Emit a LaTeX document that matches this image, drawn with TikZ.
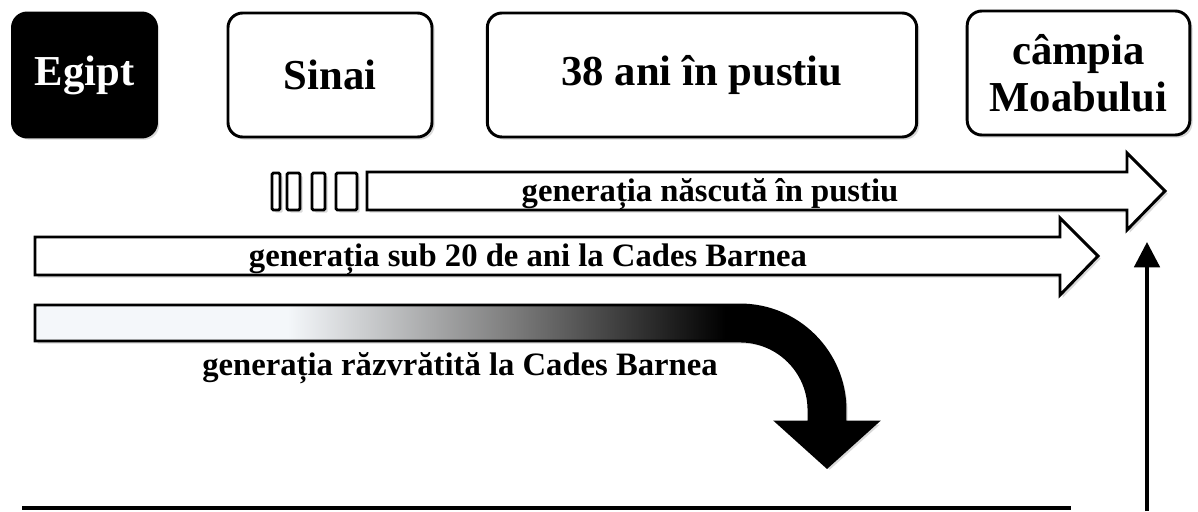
\documentclass[tikz,border=0pt]{standalone}
\usepackage{fontspec}
\setmainfont{Liberation Serif}
\usetikzlibrary{positioning, arrows.meta, shadows}

\definecolor{barlight}{HTML}{F4F7FA}
\pgfdeclarehorizontalshading{rebelshade}{100bp}{color(0bp)=(barlight); color(40bp)=(barlight); color(53bp)=(black!50); color(66bp)=(black); color(100bp)=(black)}

\tikzset{
  softshadow/.style={drop shadow={shadow xshift=2pt, shadow yshift=-2pt, opacity=.3}},
  place/.style={draw=black, line width=2.2pt, rounded corners=11pt, fill=white, inner sep=0pt,
    font=\fontsize{32}{35}\selectfont\bfseries, align=center, minimum height=93pt, softshadow},
  band/.style={draw=black, line width=2.2pt, fill=white, softshadow},
  bandtext/.style={font=\fontsize{24.5}{28}\selectfont\bfseries, inner sep=0pt},
}

\begin{document}
\begin{tikzpicture}[x=0.75pt, y=0.75pt]
    \useasboundingbox (0,0) rectangle (1198,511);

    % places
    \node[place, fill=black, text=white, minimum width=108pt] (egipt) at (84.5,436) {Egipt};
    \node[place, minimum width=153pt] (sinai) at (330,436) {Sinai};
    \node[place, minimum width=322pt] (pustiu) at (702,436) {38 ani în pustiu};
    \node[place, minimum width=167pt] (moab) at (1078.5,438) {câmpia\\Moabului};

    % generatia nascuta in pustiu
    \foreach \a/\b in {272/280, 287/300, 312/325, 336/357}
        \draw[band, rounded corners=1pt] (\a,301) rectangle (\b,338);
    \draw[band] (367,339) -- (1127,339) -- (1127,358) -- (1165,320) -- (1127,281) -- (1127,301) -- (367,301) -- cycle;
    \node[bandtext] (nascuta) at (710,317) {generația născută în pustiu};

    % generatia sub 20 de ani
    \draw[band] (35,274) -- (1060,274) -- (1060,293) -- (1098,255) -- (1060,216) -- (1060,236) -- (35,236) -- cycle;
    \node[bandtext] (sub20) at (528,252) {generația sub 20 de ani la Cades Barnea};

    % generatia razvratita
    \draw[line width=2.2pt, shade, shading=rebelshade, softshadow]
        (35,206) -- (740,206) arc[start angle=90, end angle=0, radius=105] -- (845,89) -- (877,89)
        -- (827,44) -- (777,89) -- (809,89) -- (809,101) arc[start angle=0, end angle=90, radius=69]
        -- (35,170) -- cycle;
    \node[bandtext] (razvratita) at (460,143) {generația răzvrătită la Cades Barnea};

    % baseline and way up
    \coordinate (lineleft) at (22,3);
    \coordinate (lineright) at (1071,3);
    \draw[line width=3pt] (lineleft) -- (lineright);
    \coordinate (upfoot) at (1147,0);
    \coordinate (uptip) at (1147,269);
    \draw[line width=3pt, -{Triangle[length=19pt, width=19pt]}] (upfoot) -- (uptip);
\end{tikzpicture}
\end{document}
